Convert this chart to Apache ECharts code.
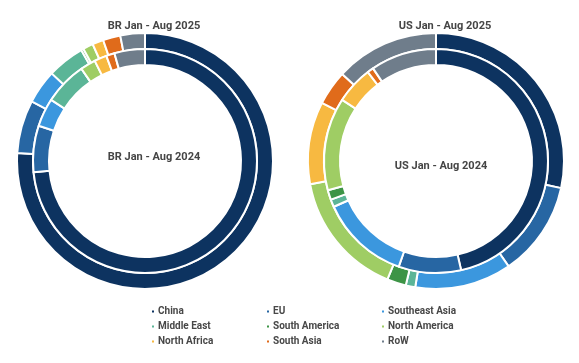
<!DOCTYPE html>
<html>
<head>
<meta charset="utf-8">
<script src="https://cdn.jsdelivr.net/npm/echarts@6/dist/echarts.min.js"></script>
<style>
html,body{margin:0;padding:0;background:#fff;}
#chart{width:579px;height:363px;}
</style>
</head>
<body>
<div id="chart"></div>
<script>
var categories = ['China','EU','Southeast Asia','Middle East','South America','North America','North Africa','South Asia','RoW'];
var colors = ['#0d3360','#2766a3','#3b97de','#5bb597','#3d9446','#9fcd64','#f7b941','#e06b1b','#6f7d8b'];
var br2025 = [76.0, 6.7, 4.3, 4.7, 0.3, 1.3, 1.4, 2.2, 3.1];
var br2024 = [73.4, 6.7, 4.1, 6.2, 0, 2.2, 1.8, 1.2, 4.4];
var us2025 = [28.4, 12.0, 12.2, 1.2, 2.4, 15.9, 10.4, 4.4, 13.1];
var us2024 = [46.4, 9.0, 12.9, 1.1, 1.4, 13.4, 5.4, 0.9, 9.5];
var titles = ['BR Jan - Aug 2025','BR Jan - Aug 2024','US Jan - Aug 2025','US Jan - Aug 2024'];
var legendCols = [['China','Middle East','North Africa'],['EU','South America','South Asia'],['Southeast Asia','North America','RoW']];

function toData(vals){
  return categories.map(function(c,i){return {name:c, value:vals[i]};});
}
function ring(vals, center, radius){
  return {
    type:'pie', center:center, radius:radius, startAngle:90, clockwise:true,
    data:toData(vals), label:{show:false}, labelLine:{show:false},
    itemStyle:{borderColor:'#fff', borderWidth:2},
    emphasis:{disabled:true}, silent:true, animation:false
  };
}
var chart = echarts.init(document.getElementById('chart'), null, {renderer:'canvas'});
var tStyle = {fontFamily:'Roboto', fontSize:11, fontWeight:'bold', color:'#454545'};
var legends = legendCols.map(function(col,i){
  return {
    data:col, orient:'vertical', left:[150,265,380][i], top:305, padding:0,
    icon:'rect', itemWidth:4, itemHeight:4, itemGap:2,
    textStyle:{fontFamily:'Roboto', fontSize:10, fontWeight:'bold', color:'#484848', padding:[0,0,0,-2], lineHeight:13},
    selectedMode:false
  };
});
chart.setOption({
  color:colors,
  animation:false,
  title:[
    {text:titles[0], left:149, top:16, textAlign:'center', textStyle:tStyle},
    {text:titles[1], left:149, top:147, textAlign:'center', textStyle:tStyle},
    {text:titles[2], left:440, top:16, textAlign:'center', textStyle:tStyle},
    {text:titles[3], left:436, top:156, textAlign:'center', textStyle:tStyle}
  ],
  legend:legends,
  series:[
    ring(br2025,[145,161],[112,128]),
    ring(br2024,[145,161],[96,112]),
    ring(us2025,[436,161],[112,128]),
    ring(us2024,[436,161],[96,112])
  ]
});
</script>
</body>
</html>
